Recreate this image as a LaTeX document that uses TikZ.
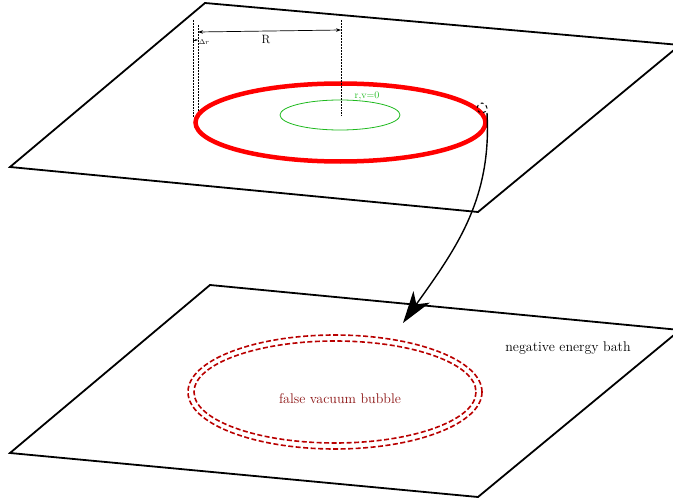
\documentclass[tikz,border=0pt]{standalone}
\usetikzlibrary{arrows.meta}
\definecolor{bubblered}{RGB}{185,0,0}
\definecolor{bubbletext}{RGB}{140,20,20}
\definecolor{lineargreen}{RGB}{30,185,30}
\begin{document}
\begin{tikzpicture}[x=1pt,y=-1pt,
  plane/.style={line width=1.8pt, line join=miter},
  dimline/.style={densely dotted, line width=0.5pt},
  lbl/.style={inner sep=0pt, font=\fontsize{14}{16}\selectfont}]
\useasboundingbox (0,0) rectangle (673,503);
\begin{scope}
\clip (0,0) rectangle (673,503);
% top plane
\draw[plane] (10,167) -- (205,3) -- (680,45) -- (478,212) -- cycle;
% bottom plane
\draw[plane] (10,453) -- (210,285) -- (680,330) -- (478,497) -- cycle;
\end{scope}
% top ellipses
\draw[red, line width=4.5pt] (340.5,122.5) ellipse [x radius=145, y radius=39];
\draw[lineargreen, line width=0.8pt] (340,115) ellipse [x radius=60, y radius=15];
\node[lbl, text=lineargreen, font=\fontsize{10}{12}\selectfont] (rv) at (367,96) {r,v=0};
% dimension lines
\coordinate (d1t) at (193,20); \coordinate (d1b) at (193,117);
\coordinate (d2t) at (198,25); \coordinate (d2b) at (198,112);
\coordinate (d3t) at (341,20); \coordinate (d3b) at (341,116);
\draw[dimline] (d1t) -- (d1b);
\draw[dimline] (d2t) -- (d2b);
\draw[dimline] (d3t) -- (d3b);
\coordinate (ra) at (198,32); \coordinate (rb) at (341,30);
\draw[{Stealth[length=5pt,width=3.5pt]}-{Stealth[length=5pt,width=3.5pt]}, line width=0.7pt] (ra) -- (rb);
\node[lbl, font=\fontsize{12}{14}\selectfont] (R) at (266,40) {R};
\coordinate (dra) at (193,40); \coordinate (drb) at (198,40);
\draw[-{Stealth[length=3pt,width=2pt]}, line width=0.5pt] (dra) -- (drb);
\node[lbl, font=\fontsize{7}{8}\selectfont] (dr) at (204,42) {$\Delta r$};
% small dashed circle and arrow
\node[draw, dashed, circle, minimum size=10pt, inner sep=0pt, line width=1pt] (spot) at (482,108) {};
\coordinate (tip) at (403,323);
\draw[line width=1.4pt, -{Stealth[length=32pt,width=20pt,inset=9pt]}] (487,113) .. controls (492,200) and (455,250) .. (tip);
% bottom bubble
\draw[bubblered, dash pattern=on 5pt off 2.5pt, line width=1.6pt] (335,392) ellipse [x radius=147, y radius=57];
\draw[bubblered, dash pattern=on 5pt off 2.5pt, line width=1.6pt] (335,392) ellipse [x radius=141, y radius=51];
\node[lbl, text=bubbletext] (fvb) at (340,399) {false vacuum bubble};
\node[lbl] (neb) at (568,348) {negative energy bath};
\end{tikzpicture}
\end{document}
